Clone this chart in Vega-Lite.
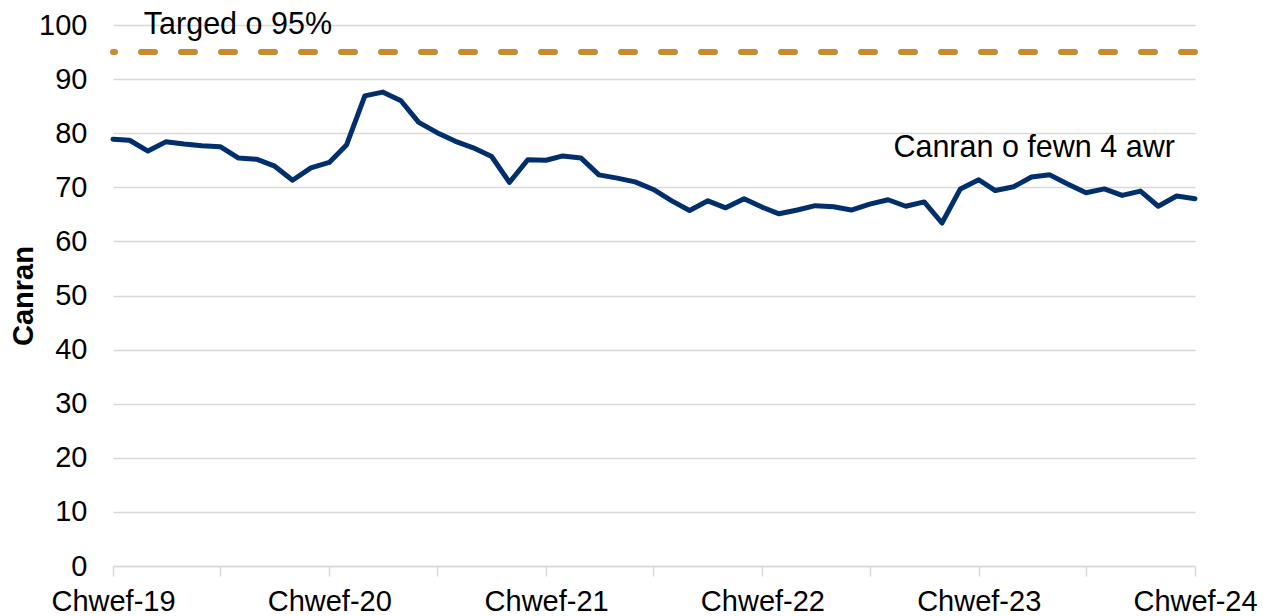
{
  "$schema": "https://vega.github.io/schema/vega-lite/v6.json",
  "width": 1082,
  "height": 541,
  "autosize": {"type": "none"},
  "padding": {"left": 113, "top": 25, "right": 68, "bottom": 50},
  "background": "white",
  "config": {
    "view": {"stroke": null},
    "font": "Liberation Sans",
    "text": {"font": "Liberation Sans"}
  },
  "datasets": {
    "series": [
      {"date": "2019-02-01", "value": 78.9},
      {"date": "2019-03-01", "value": 78.7},
      {"date": "2019-04-01", "value": 76.7},
      {"date": "2019-05-01", "value": 78.4},
      {"date": "2019-06-01", "value": 78.0},
      {"date": "2019-07-01", "value": 77.7},
      {"date": "2019-08-01", "value": 77.5},
      {"date": "2019-09-01", "value": 75.4},
      {"date": "2019-10-01", "value": 75.2},
      {"date": "2019-11-01", "value": 73.9},
      {"date": "2019-12-01", "value": 71.3},
      {"date": "2020-01-01", "value": 73.6},
      {"date": "2020-02-01", "value": 74.6},
      {"date": "2020-03-01", "value": 77.8},
      {"date": "2020-04-01", "value": 86.9},
      {"date": "2020-05-01", "value": 87.6},
      {"date": "2020-06-01", "value": 86.0},
      {"date": "2020-07-01", "value": 82.0},
      {"date": "2020-08-01", "value": 80.1},
      {"date": "2020-09-01", "value": 78.5},
      {"date": "2020-10-01", "value": 77.3},
      {"date": "2020-11-01", "value": 75.7},
      {"date": "2020-12-01", "value": 70.9},
      {"date": "2021-01-01", "value": 75.1},
      {"date": "2021-02-01", "value": 75.0},
      {"date": "2021-03-01", "value": 75.8},
      {"date": "2021-04-01", "value": 75.4},
      {"date": "2021-05-01", "value": 72.3},
      {"date": "2021-06-01", "value": 71.7},
      {"date": "2021-07-01", "value": 71.0},
      {"date": "2021-08-01", "value": 69.6},
      {"date": "2021-09-01", "value": 67.5},
      {"date": "2021-10-01", "value": 65.7},
      {"date": "2021-11-01", "value": 67.5},
      {"date": "2021-12-01", "value": 66.2},
      {"date": "2022-01-01", "value": 67.9},
      {"date": "2022-02-01", "value": 66.3},
      {"date": "2022-03-01", "value": 65.1},
      {"date": "2022-04-01", "value": 65.8},
      {"date": "2022-05-01", "value": 66.6},
      {"date": "2022-06-01", "value": 66.4},
      {"date": "2022-07-01", "value": 65.8},
      {"date": "2022-08-01", "value": 66.9},
      {"date": "2022-09-01", "value": 67.7},
      {"date": "2022-10-01", "value": 66.5},
      {"date": "2022-11-01", "value": 67.3},
      {"date": "2022-12-01", "value": 63.4},
      {"date": "2023-01-01", "value": 69.7},
      {"date": "2023-02-01", "value": 71.4},
      {"date": "2023-03-01", "value": 69.4},
      {"date": "2023-04-01", "value": 70.1},
      {"date": "2023-05-01", "value": 71.9},
      {"date": "2023-06-01", "value": 72.3},
      {"date": "2023-07-01", "value": 70.6},
      {"date": "2023-08-01", "value": 69.0},
      {"date": "2023-09-01", "value": 69.7},
      {"date": "2023-10-01", "value": 68.5},
      {"date": "2023-11-01", "value": 69.3},
      {"date": "2023-12-01", "value": 66.5},
      {"date": "2024-01-01", "value": 68.4},
      {"date": "2024-02-01", "value": 67.9}
    ],
    "labels": [
      {"date": "2019-03-25", "value": 98.4, "label": "Targed o 95%"},
      {"date": "2022-09-10", "value": 75.6, "label": "Canran o fewn 4 awr"}
    ],
    "target": [
      {"target": 95}
    ]
  },
  "layer": [
    {
      "data": {"name": "series"},
      "mark": {"type": "line", "color": "#002F6C", "strokeWidth": 5, "strokeJoin": "round", "strokeCap": "round", "clip": false},
      "encoding": {
        "x": {
          "field": "date",
          "type": "temporal",
          "scale": {"type": "utc", "domain": ["2019-02-01", "2024-02-01"], "nice": false},
          "axis": {
            "title": null,
            "values": [
              {"year": 2019, "month": 2, "date": 1, "utc": true},
              {"year": 2019, "month": 8, "date": 1, "utc": true},
              {"year": 2020, "month": 2, "date": 1, "utc": true},
              {"year": 2020, "month": 8, "date": 1, "utc": true},
              {"year": 2021, "month": 2, "date": 1, "utc": true},
              {"year": 2021, "month": 8, "date": 1, "utc": true},
              {"year": 2022, "month": 2, "date": 1, "utc": true},
              {"year": 2022, "month": 8, "date": 1, "utc": true},
              {"year": 2023, "month": 2, "date": 1, "utc": true},
              {"year": 2023, "month": 8, "date": 1, "utc": true},
              {"year": 2024, "month": 2, "date": 1, "utc": true}
            ],
            "labelExpr": "utcFormat(datum.value, '%m') == '02' ? 'Chwef-' + utcFormat(datum.value, '%y') : ''",
            "labelFont": "Liberation Sans",
            "labelFontSize": 29,
            "labelColor": "#000000",
            "labelPadding": 11,
            "labelOverlap": false,
            "labelBound": false,
            "labelFlush": false,
            "grid": false,
            "domain": true,
            "domainColor": "#D9D9D9",
            "domainWidth": 1.5,
            "ticks": true,
            "tickSize": 10,
            "tickColor": "#D9D9D9",
            "tickWidth": 1.5
          }
        },
        "y": {
          "field": "value",
          "type": "quantitative",
          "scale": {"domain": [0, 100], "nice": false},
          "axis": {
            "title": "Canran",
            "titleFont": "Liberation Sans",
            "titleFontSize": 29,
            "titleFontWeight": "bold",
            "titleColor": "#000000",
            "titlePadding": 0,
            "values": [0, 10, 20, 30, 40, 50, 60, 70, 80, 90, 100],
            "labelFont": "Liberation Sans",
            "labelFontSize": 29,
            "labelColor": "#000000",
            "labelPadding": 26,
            "ticks": false,
            "domain": false,
            "grid": true,
            "gridColor": "#D9D9D9",
            "gridWidth": 1.5
          }
        }
      }
    },
    {
      "data": {"name": "target"},
      "mark": {"type": "rule", "color": "#CC8A2E", "strokeWidth": 6, "strokeDash": [14, 26], "strokeCap": "round"},
      "encoding": {
        "y": {"field": "target", "type": "quantitative"}
      }
    },
    {
      "data": {"name": "labels"},
      "mark": {"type": "text", "align": "left", "baseline": "alphabetic", "font": "Liberation Sans", "fontSize": 30.5, "color": "#000000"},
      "encoding": {
        "x": {"field": "date", "type": "temporal"},
        "y": {"field": "value", "type": "quantitative"},
        "text": {"field": "label", "type": "nominal"}
      }
    }
  ]
}
